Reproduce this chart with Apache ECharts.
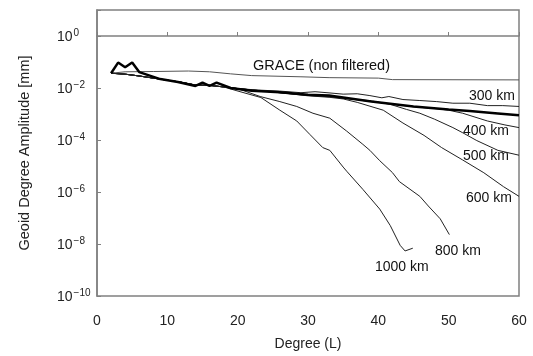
<!DOCTYPE html>
<html>
<head>
<meta charset="utf-8">
<script src="https://cdn.jsdelivr.net/npm/echarts@6/dist/echarts.min.js"></script>
<style>
html,body{margin:0;padding:0;background:#fff;}
#chart{width:533px;height:356px;}
</style>
</head>
<body>
<div id="chart"></div>
<script>
// ---- data (degree L, amplitude in mm) ----
const xTicks = [0, 10, 20, 30, 40, 50, 60];
const yTickExponents = [-10, -8, -6, -4, -2, 0];

const degGrace = [2, 4, 8, 13, 16, 19, 22, 29, 33, 40, 42, 60];
const ampGrace = [3.7e-2, 4.2e-2, 4.3e-2, 4.5e-2, 4.2e-2, 3.5e-2, 3.0e-2, 2.7e-2, 2.5e-2, 2.4e-2, 2.1e-2, 2.05e-2];

const degSignal = [2, 3, 4, 5, 6, 9, 11.5, 14, 15, 16, 17, 19, 22, 26, 30, 33, 39, 45, 50, 53, 57, 60];
const ampSignal = [3.7e-2, 9.5e-2, 6.3e-2, 9.5e-2, 4.1e-2, 2.2e-2, 1.7e-2, 1.2e-2, 1.6e-2, 1.2e-2, 1.6e-2, 1.0e-2, 7.9e-3, 6.8e-3, 5.5e-3, 5.1e-3, 3.0e-3, 1.95e-3, 1.5e-3, 1.3e-3, 1.05e-3, 8.9e-4];

const deg300 = [2, 4, 6, 8, 10, 12, 14, 16, 18, 20, 23, 26, 29, 31, 32.7, 35, 37, 38.8, 40.5, 41.5, 43.5, 45.9, 48.3, 50.6, 53, 55.5, 57.7, 60];
const amp300 = [3.7e-2, 3.4e-2, 2.9e-2, 2.4e-2, 2.0e-2, 1.66e-2, 1.3e-2, 1.26e-2, 1.1e-2, 9.5e-3, 8.3e-3, 7.6e-3, 6.6e-3, 7.2e-3, 6.6e-3, 5.8e-3, 6.0e-3, 5.1e-3, 4.2e-3, 4.7e-3, 3.6e-3, 3.3e-3, 3.0e-3, 2.6e-3, 2.6e-3, 2.1e-3, 2.1e-3, 1.95e-3];

const deg400 = [2, 4, 6, 8, 10, 12, 14, 16, 18, 20, 23, 26, 30, 33, 36, 39, 42, 45, 48.3, 50, 52, 55.5, 58, 60];
const amp400 = [3.7e-2, 3.4e-2, 2.9e-2, 2.4e-2, 2.0e-2, 1.66e-2, 1.3e-2, 1.26e-2, 1.1e-2, 9.5e-3, 7.9e-3, 6.6e-3, 5.4e-3, 4.8e-3, 3.8e-3, 3.0e-3, 2.4e-3, 1.9e-3, 1.6e-3, 1.4e-3, 1.07e-3, 5.4e-4, 3.8e-4, 3.0e-4];

const deg500 = [2, 4, 6, 8, 10, 12, 14, 16, 18, 20, 23, 26, 30, 33, 36, 39, 41.7, 44, 45.9, 48, 50.6, 52, 54, 57, 60];
const amp500 = [3.7e-2, 3.4e-2, 2.9e-2, 2.4e-2, 2.0e-2, 1.66e-2, 1.3e-2, 1.26e-2, 1.1e-2, 9.5e-3, 7.9e-3, 6.6e-3, 5.2e-3, 4.6e-3, 3.8e-3, 3.2e-3, 2.35e-3, 1.5e-3, 1.07e-3, 6.3e-4, 3.0e-4, 1.9e-4, 9.5e-5, 4.0e-5, 2.6e-5];

const deg600 = [2, 4, 6, 8, 10, 12, 14, 16, 18, 20, 23, 26, 30, 33, 35, 37, 40.7, 43.5, 46.5, 49, 52, 55, 57.8, 60];
const amp600 = [3.7e-2, 3.4e-2, 2.9e-2, 2.4e-2, 2.0e-2, 1.66e-2, 1.3e-2, 1.26e-2, 1.1e-2, 9.5e-3, 7.9e-3, 6.6e-3, 5.0e-3, 4.4e-3, 3.8e-3, 2.8e-3, 1.4e-3, 4.5e-4, 1.5e-4, 5.1e-5, 1.7e-5, 5.5e-6, 1.6e-6, 6.8e-7];

const deg800 = [2, 4, 6, 8, 10, 12, 14, 16, 18, 20, 23.2, 26, 28.4, 30.7, 33.1, 35.5, 37.8, 38.8, 40.2, 42, 43, 45.9, 47.1, 48.8, 50.1];
const amp800 = [3.7e-2, 3.4e-2, 2.9e-2, 2.4e-2, 2.0e-2, 1.66e-2, 1.3e-2, 1.26e-2, 1.1e-2, 9.5e-3, 4.7e-3, 3.0e-3, 1.95e-3, 1.07e-3, 6.9e-4, 2.2e-4, 6.8e-5, 4.0e-5, 1.6e-5, 5.6e-6, 2.5e-6, 6.8e-7, 2.9e-7, 9.3e-8, 2.3e-8];

const deg1000 = [2, 4, 6, 8, 10, 12, 14, 16, 18, 19.9, 23.3, 26, 28.4, 30.3, 32.1, 33.1, 35, 35.5, 37.8, 40.2, 41.7, 43.1, 43.8, 44.9];
const amp1000 = [3.7e-2, 3.4e-2, 2.9e-2, 2.4e-2, 2.0e-2, 1.66e-2, 1.3e-2, 1.26e-2, 1.1e-2, 7.8e-3, 4.3e-3, 1.4e-3, 5.4e-4, 1.6e-4, 5.1e-5, 4.0e-5, 9.1e-6, 6.3e-6, 1.26e-6, 2.2e-7, 5.1e-8, 8.9e-9, 5.4e-9, 6.9e-9];

const FONT = '"Liberation Sans", Arial, sans-serif';
const AXIS_COLOR = '#808080';

function pairs(d, a) { return d.map((x, i) => [x, a[i]]); }

function thinLine(name, d, a, color) {
  return {
    name: name, type: 'line', yAxisIndex: 0, data: pairs(d, a),
    showSymbol: false, symbol: 'none', silent: true,
    lineStyle: { color: color || '#222', width: 1 }
  };
}

const chart = echarts.init(document.getElementById('chart'), null, { renderer: 'canvas' });

const option = {
  animation: false,
  backgroundColor: '#fff',
  grid: { left: 97, right: 14, top: 10, bottom: 54, show: true, borderColor: AXIS_COLOR, borderWidth: 1.5 },
  xAxis: {
    type: 'value', min: 0, max: 60, interval: 10,
    name: 'Degree (L)', nameLocation: 'middle', nameGap: 41,
    nameTextStyle: { fontFamily: FONT, fontSize: 14, color: '#222' },
    axisLine: { show: true, lineStyle: { color: AXIS_COLOR, width: 1.5 } },
    axisTick: { show: true, inside: true, length: 4, lineStyle: { color: AXIS_COLOR } },
    splitLine: { show: false },
    axisLabel: { fontFamily: FONT, fontSize: 14, color: '#222', margin: 18,
      formatter: v => (xTicks.indexOf(v) >= 0 ? String(v) : '') }
  },
  yAxis: [
    {
      type: 'log', logBase: 10, min: 1e-10, max: 10,
      position: 'left',
      axisLine: { show: true, lineStyle: { color: AXIS_COLOR, width: 1.5 } },
      axisTick: { show: false },
      axisLabel: { show: false },
      splitLine: { show: false },
      name: 'Geoid Degree Amplitude [mm]', nameLocation: 'middle', nameGap: 65,
      nameRotate: 90,
      nameTextStyle: { fontFamily: FONT, fontSize: 14.5, color: '#222' }
    },
    {
      type: 'value', min: -10, max: 1, interval: 2,
      position: 'left',
      axisLine: { show: false },
      axisTick: { show: true, inside: true, length: 4, lineStyle: { color: AXIS_COLOR } },
      splitLine: { show: false },
      axisLabel: {
        margin: 40, align: 'left',
        formatter: function (v) {
          if (yTickExponents.indexOf(v) < 0) return '';
          return '{b|10}{s|' + (v < 0 ? '\u2212' + (-v) : v) + '}';
        },
        rich: {
          b: { fontFamily: FONT, fontSize: 14, color: '#222', verticalAlign: 'bottom', lineHeight: 16, padding: [7, 0, 0, 0] },
          s: { fontFamily: FONT, fontSize: 10, color: '#222', verticalAlign: 'top', lineHeight: 11, padding: [0, 0, 8, 1] }
        }
      }
    }
  ],
  series: [
    thinLine('GRACE (non filtered)', degGrace, ampGrace, '#555'),
    thinLine('300 km', deg300, amp300),
    thinLine('400 km', deg400, amp400),
    thinLine('500 km', deg500, amp500),
    thinLine('600 km', deg600, amp600),
    thinLine('800 km', deg800, amp800),
    thinLine('1000 km', deg1000, amp1000),
    {
      name: 'signal', type: 'line', yAxisIndex: 0, data: pairs(degSignal, ampSignal),
      showSymbol: false, symbol: 'none', silent: true,
      lineStyle: { color: '#000', width: 2.5 }
    }
  ],
  graphic: [
    { type: 'text', left: 253, top: 58, style: { text: 'GRACE (non filtered)', font: '14.5px ' + FONT, fill: '#111' } },
    { type: 'text', left: 469, top: 89, style: { text: '300 km', font: '14px ' + FONT, fill: '#111' } },
    { type: 'text', left: 463, top: 124, style: { text: '400 km', font: '14px ' + FONT, fill: '#111' } },
    { type: 'text', left: 463, top: 149, style: { text: '500 km', font: '14px ' + FONT, fill: '#111' } },
    { type: 'text', left: 466, top: 191, style: { text: '600 km', font: '14px ' + FONT, fill: '#111' } },
    { type: 'text', left: 435, top: 244, style: { text: '800 km', font: '14px ' + FONT, fill: '#111' } },
    { type: 'text', left: 375, top: 260, style: { text: '1000 km', font: '14px ' + FONT, fill: '#111' } }
  ]
};
chart.setOption(option);
</script>
</body>
</html>
